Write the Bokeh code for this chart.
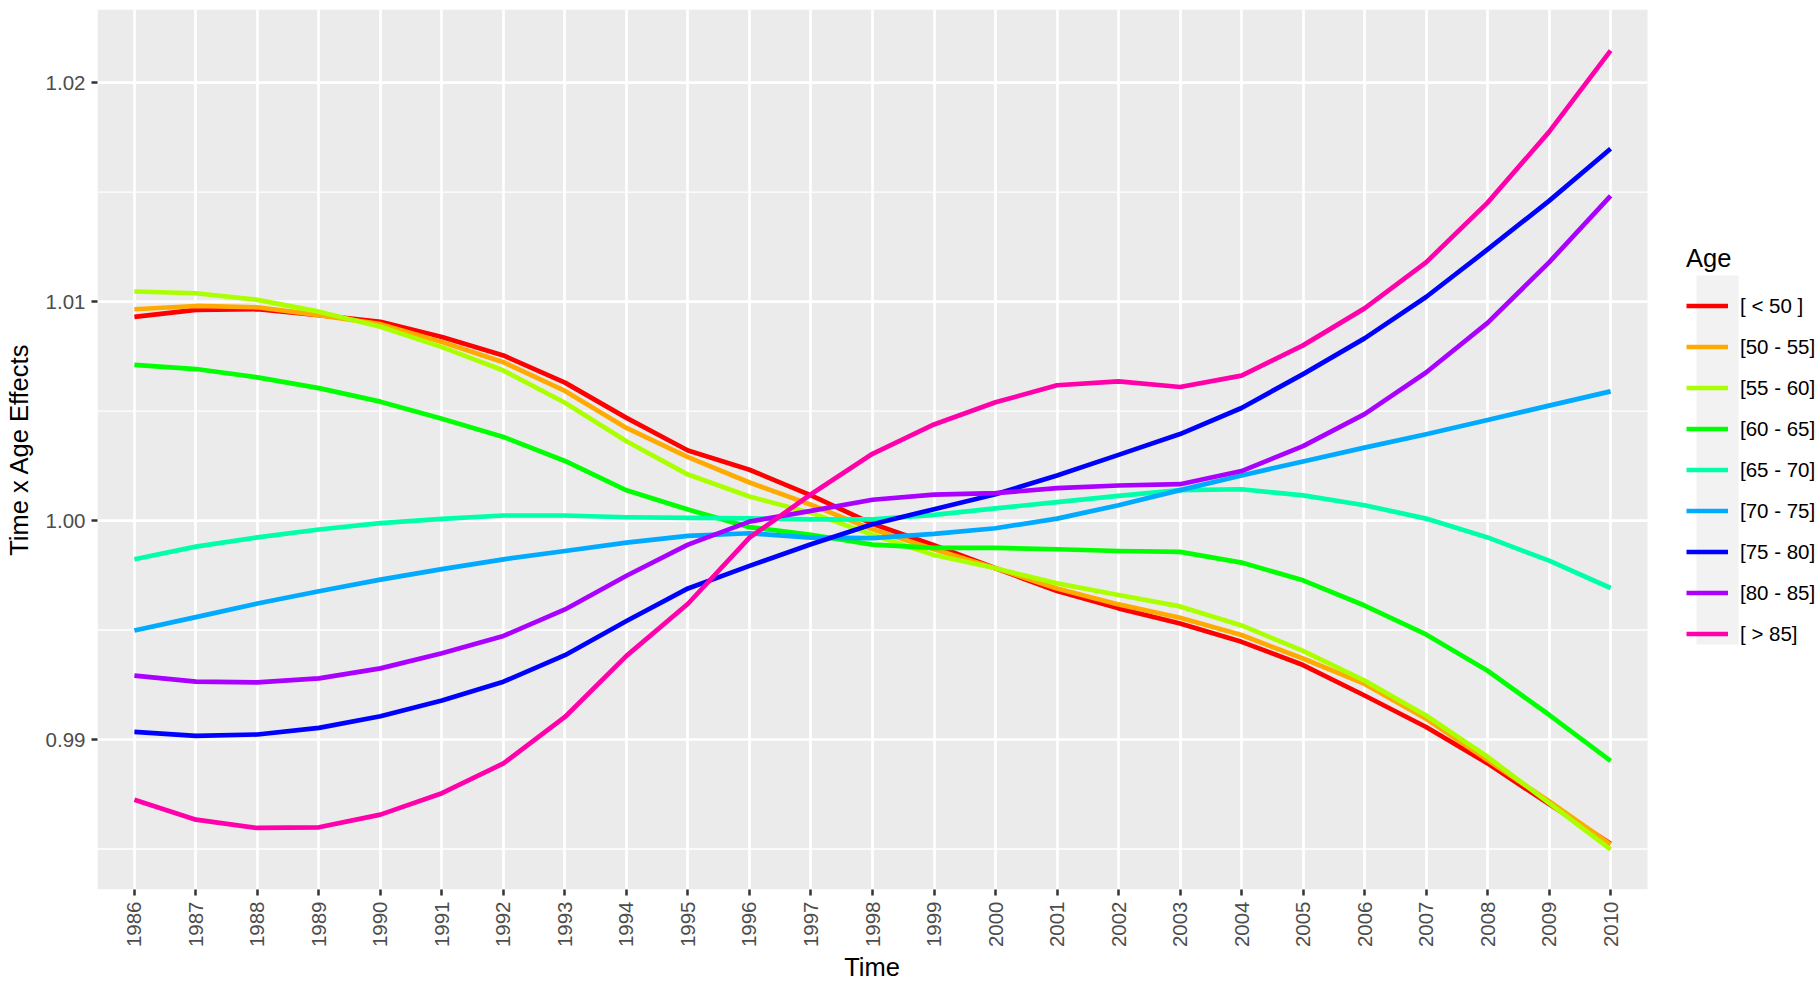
from bokeh.plotting import figure
from bokeh.models import (Range1d, FixedTicker, NumeralTickFormatter, Legend,
                          LegendItem, BoxAnnotation, Title)
from bokeh.embed import file_html
from bokeh.resources import INLINE

# ---------------- data ----------------
years = list(range(1986, 2011))

age_groups = ["[ < 50 ]", "[50 - 55]", "[55 - 60]", "[60 - 65]", "[65 - 70]",
              "[70 - 75]", "[75 - 80]", "[80 - 85]", "[ > 85]"]
colors = ["#FF0000", "#FFAA00", "#AAFF00", "#00FF00", "#00FFAA",
          "#00AAFF", "#0000FF", "#AA00FF", "#FF00AA"]

age_lt50 = [1.0093, 1.00962, 1.00965, 1.00938, 1.00908, 1.00838, 1.00754, 1.0063,
            1.00469, 1.0032, 1.00232, 1.00115, 0.99985, 0.99887, 0.99782, 0.99678,
            0.99599, 0.9953, 0.99446, 0.9934, 0.99201, 0.99057, 0.98891, 0.98705,
            0.98524]
age_50_55 = [1.00965, 1.0098, 1.00974, 1.00938, 1.00897, 1.00815, 1.00723, 1.00592,
             1.00423, 1.0029, 1.00174, 1.00072, 0.9996, 0.99869, 0.99782, 0.9969,
             0.99617, 0.99556, 0.99477, 0.9937, 0.99254, 0.99095, 0.98906, 0.98718,
             0.98521]
age_55_60 = [1.01046, 1.01038, 1.01008, 1.00954, 1.00885, 1.00792, 1.00685, 1.00538,
             1.00362, 1.0021, 1.0011, 1.00035, 0.99935, 0.99843, 0.99782, 0.99713,
             0.9966, 0.99608, 0.99521, 0.99405, 0.99269, 0.9911, 0.98921, 0.9871,
             0.98498]
age_60_65 = [1.00711, 1.00692, 1.00654, 1.00605, 1.00543, 1.00465, 1.00382, 1.00272,
             1.00138, 1.0005, 0.9997, 0.99935, 0.9989, 0.99875, 0.99875, 0.99869,
             0.99861, 0.99857, 0.99808, 0.99727, 0.99612, 0.9948, 0.99314, 0.99113,
             0.98902]
age_65_70 = [0.99823, 0.99881, 0.99923, 0.99959, 0.99988, 1.00008, 1.00023, 1.00023,
             1.00015, 1.00012, 1.0001, 1.00005, 1.00005, 1.00026, 1.00056, 1.00084,
             1.00113, 1.00139, 1.00143, 1.00115, 1.0007, 1.00009, 0.99923, 0.99817,
             0.99692]
age_70_75 = [0.99498, 0.99559, 0.99621, 0.99677, 0.9973, 0.99778, 0.99823, 0.99861,
             0.99899, 0.9993, 0.99942, 0.99922, 0.9992, 0.99939, 0.99965, 1.00009,
             1.0007, 1.00139, 1.00206, 1.0027, 1.00333, 1.00394, 1.00459, 1.00525,
             1.0059]
age_75_80 = [0.99035, 0.99017, 0.99023, 0.99053, 0.99106, 0.99178, 0.99264, 0.99385,
             0.99541, 0.9969, 0.99793, 0.99892, 0.99983, 1.00052, 1.0012, 1.00206,
             1.003, 1.00395, 1.00514, 1.00669, 1.00832, 1.01021, 1.01238, 1.0146,
             1.01698]
age_80_85 = [0.99292, 0.99264, 0.99261, 0.99279, 0.99325, 0.99394, 0.99473, 0.99594,
             0.99748, 0.9989, 0.99995, 1.00044, 1.00095, 1.00118, 1.00125, 1.00148,
             1.0016, 1.00166, 1.00226, 1.0034, 1.00486, 1.00676, 1.00903, 1.01179,
             1.01483]
age_gt85 = [0.98725, 0.98634, 0.98596, 0.98599, 0.98657, 0.98755, 0.98891, 0.99103,
            0.99382, 0.9962, 0.99922, 1.0012, 1.00305, 1.00439, 1.0054, 1.00618,
            1.00636, 1.0061, 1.00662, 1.008, 1.00969, 1.01179, 1.01452, 1.01775,
            1.02146]

series = [age_lt50, age_50_55, age_55_60, age_60_65, age_65_70,
          age_70_75, age_75_80, age_80_85, age_gt85]

y_major = [0.99, 1.00, 1.01, 1.02]
y_minor = [0.985, 0.995, 1.005, 1.015]

# axis limits of the grey panel
x_lo, x_hi = 1985.4, 2010.6
y_lo, y_hi = 0.98315, 1.02334

FONT = "Liberation Sans"

# layout (pixels): the frame also hosts the legend area to the right of the panel
W, H = 1820, 982
LEFT, TOP, BOTTOM = 97, 9, 93
PANEL_W = 1550
FRAME_W = W - LEFT
x_frame_hi = x_lo + (x_hi - x_lo) * FRAME_W / PANEL_W

p = figure(width=W, height=H, output_backend="svg", toolbar_location=None,
           x_range=Range1d(x_lo, x_frame_hi), y_range=Range1d(y_lo, y_hi),
           min_border_left=LEFT, min_border_right=0, min_border_top=TOP,
           min_border_bottom=BOTTOM)
p.background_fill_color = "white"
p.border_fill_color = "white"
p.outline_line_color = None

# grey panel
p.quad(left=[x_lo], right=[x_hi], bottom=[y_lo], top=[y_hi],
       fill_color="#EBEBEB", line_color=None, level="image")

# horizontal grid lines limited to the panel
p.segment(x0=[x_lo] * len(y_minor), x1=[x_hi] * len(y_minor), y0=y_minor, y1=y_minor,
          line_color="white", line_width=1.35, level="underlay")
p.segment(x0=[x_lo] * len(y_major), x1=[x_hi] * len(y_major), y0=y_major, y1=y_major,
          line_color="white", line_width=2.7, level="underlay")
p.ygrid.visible = False
p.xgrid.ticker = FixedTicker(ticks=years)
p.xgrid.grid_line_color = "white"
p.xgrid.grid_line_width = 2.7

# axes
p.xaxis.ticker = FixedTicker(ticks=years)
p.xaxis.formatter = NumeralTickFormatter(format="0")
p.xaxis.bounds = (x_lo, x_hi)
p.yaxis.ticker = FixedTicker(ticks=y_major, minor_ticks=y_minor)
p.yaxis.formatter = NumeralTickFormatter(format="0.00")
for ax in (p.xaxis[0], p.yaxis[0]):
    ax.axis_line_color = None
    ax.major_tick_line_color = "#333333"
    ax.major_tick_line_width = 2.5
    ax.major_tick_out = 6
    ax.major_tick_in = 0
    ax.minor_tick_line_color = None
    ax.major_label_text_font = FONT
    ax.major_label_text_font_size = "20.5px"
    ax.major_label_text_color = "#4D4D4D"
    ax.major_label_standoff = 6
    ax.axis_label_text_font = FONT
    ax.axis_label_text_font_size = "25.5px"
    ax.axis_label_text_font_style = "normal"
    ax.axis_label_text_color = "black"
p.xaxis.major_label_orientation = 1.5707963
p.yaxis.axis_label = "Time x Age Effects"
p.yaxis.axis_label_standoff = 10

# x-axis title, centred under the grey panel (not under the whole frame)
TITLE_SIZE = 25.5
title_w = 2.222 * TITLE_SIZE
x_title = Title(text="Time", align="left", offset=PANEL_W / 2 - title_w / 2,
                text_font=FONT, text_font_size=f"{TITLE_SIZE}px",
                text_font_style="normal", text_color="black", standoff=0)
p.add_layout(x_title, "below")

# lines
items = []
for name, col, vals in zip(age_groups, colors, series):
    r = p.line(years, vals, line_color=col, line_width=4.7, line_join="round")
    items.append(LegendItem(label=name, renderers=[r]))

# legend (screen offsets from the frame's bottom-left corner)
LEG_X, LEG_Y, PAD, KEY_W, KEY_H = 1589, 235, 10, 42, 41
key_bg = BoxAnnotation(left=LEG_X + PAD, right=LEG_X + PAD + KEY_W,
                       bottom=LEG_Y + PAD, top=LEG_Y + PAD + KEY_H * len(items),
                       left_units="screen", right_units="screen",
                       top_units="screen", bottom_units="screen",
                       fill_color="#F2F2F2", fill_alpha=1.0, line_color=None,
                       level="underlay")
p.add_layout(key_bg)

legend = Legend(items=items, location=(LEG_X, LEG_Y), title="Age",
                title_text_font=FONT, title_text_font_size="25.5px",
                title_text_font_style="normal", title_text_color="black",
                title_standoff=12,
                label_text_font=FONT, label_text_font_size="20.5px",
                label_text_color="black", label_standoff=12,
                glyph_width=KEY_W, glyph_height=KEY_H, spacing=0,
                padding=PAD, margin=0,
                background_fill_alpha=0, border_line_color=None)
p.add_layout(legend)

open("out.html", "w").write(file_html(p, INLINE))
